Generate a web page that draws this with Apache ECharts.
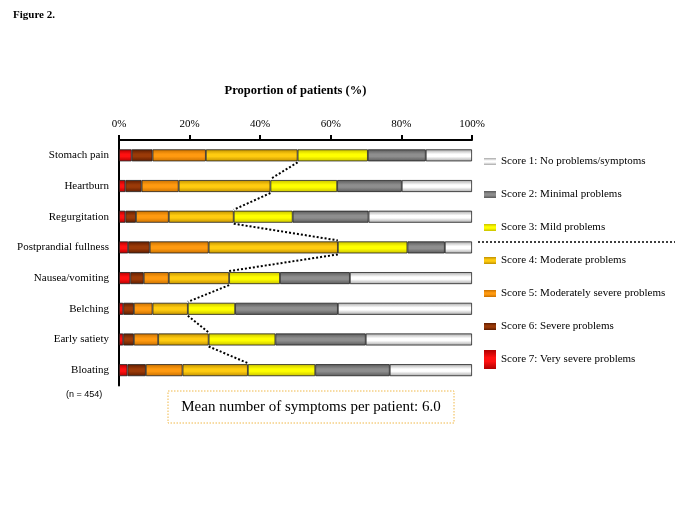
<!DOCTYPE html>
<html>
<head>
<meta charset="utf-8">
<script src="https://cdn.jsdelivr.net/npm/echarts@6/dist/echarts.min.js"></script>
<style>html,body{margin:0;padding:0;background:#fff}#c{width:685px;height:513px}</style>
</head>
<body>
<div id="c"></div>
<script>
const categories = ['Stomach pain','Heartburn','Regurgitation','Postprandial fullness','Nausea/vomiting','Belching','Early satiety','Bloating'];
const score7 = [3.6, 1.8, 1.8, 2.6, 3.2, 1.2, 1.2, 2.4];
const score6 = [5.9, 4.6, 3.0, 6.1, 3.8, 3.0, 3.0, 5.2];
const score5 = [15.1, 10.5, 9.3, 16.7, 7.1, 5.3, 6.9, 10.4];
const score4 = [26.0, 26.0, 18.4, 36.6, 17.1, 10.0, 14.3, 18.5];
const score3 = [19.9, 18.9, 16.7, 19.7, 14.4, 13.4, 18.9, 19.1];
const score2 = [16.4, 18.3, 21.5, 10.6, 19.8, 29.1, 25.6, 21.1];
const score1 = [13.1, 19.9, 29.3, 7.7, 34.6, 38.0, 30.1, 23.3];
const seriesNames = ['Score 7: Very severe problems','Score 6: Severe problems','Score 5: Moderately severe problems','Score 4: Moderate problems','Score 3: Mild problems','Score 2: Minimal problems','Score 1: No problems/symptoms'];
const xTickValues = [0, 20, 40, 60, 80, 100];

const FONT = "'Liberation Serif','Times New Roman',serif";
const seriesData = [score7, score6, score5, score4, score3, score2, score1];
const palette = [
  ['#B00000', '#FF1010'],
  ['#5E1C00', '#9A3A08'],
  ['#C87000', '#FF9A10'],
  ['#C09000', '#FFCC10'],
  ['#C8C000', '#FFFF00'],
  ['#5A5A5A', '#8E8E8E'],
  ['#A8A8A8', '#FFFFFF']
];
function grad(p) {
  return new echarts.graphic.LinearGradient(0, 0, 0, 1, [
    {offset: 0, color: p[0]}, {offset: 0.4, color: p[1]},
    {offset: 0.6, color: p[1]}, {offset: 1, color: p[0]}
  ]);
}
// cumulative share of score >= 4 per category (for dotted connector)
const cum4 = categories.map((_, i) => score7[i] + score6[i] + score5[i] + score4[i]);
const connectorData = [];
for (let i = 0; i < categories.length - 1; i++) connectorData.push([cum4[i], i, cum4[i + 1], i + 1]);

const barSeries = seriesNames.map((name, k) => ({
  name: name, type: 'bar', stack: 'all', barWidth: 12,
  data: seriesData[k],
  itemStyle: {color: grad(palette[k]), borderColor: '#222', borderWidth: 0.8},
  emphasis: {disabled: true}, silent: true
}));

const legendIcon = 'path://M0,0h12v7h-12z';
const legendIconTall = 'path://M0,0h12v19h-12z';
const legendData = seriesNames.slice().reverse().map(n => ({
  name: n, icon: n.startsWith('Score 7') ? legendIconTall : legendIcon,
  itemStyle: {borderWidth: 0}
}));

const chart = echarts.init(document.getElementById('c'), null, {renderer: 'canvas'});
chart.setOption({
  animation: false,
  backgroundColor: '#fff',
  grid: {left: 119, top: 140, width: 353, height: 245.5, containLabel: false},
  xAxis: {
    type: 'value', position: 'top', min: 0, max: 100, interval: 20,
    name: 'Proportion of patients (%)', nameLocation: 'middle', nameGap: 43,
    nameTextStyle: {fontFamily: FONT, fontSize: 12.5, color: '#000', fontWeight: 'bold'},
    axisLine: {show: true, lineStyle: {color: '#000', width: 2}},
    axisTick: {show: true, inside: false, length: 5, lineStyle: {color: '#000', width: 2}},
    axisLabel: {margin: 10, fontFamily: FONT, fontSize: 11, color: '#000', formatter: v => xTickValues.includes(v) ? v + '%' : ''},
    splitLine: {show: false}
  },
  yAxis: {
    type: 'category', inverse: true, data: categories, offset: 4,
    axisLine: {show: true, lineStyle: {color: '#000', width: 2}},
    axisTick: {show: false},
    axisLabel: {margin: 6, fontFamily: FONT, fontSize: 11, color: '#000'}
  },
  legend: {
    orient: 'vertical', left: 484, top: 152, padding: 0,
    itemWidth: 12, itemHeight: 19, itemGap: 14, selectedMode: false,
    data: legendData,
    itemStyle: {borderWidth: 0},
    textStyle: {fontFamily: FONT, fontSize: 11, color: '#000', lineHeight: 19}
  },
  series: barSeries.concat([{
    type: 'custom', coordinateSystem: 'cartesian2d', silent: true,
    encode: {x: [0, 2], y: [1, 3]},
    data: connectorData,
    renderItem: function (params, api) {
      const p1 = api.coord([api.value(0), api.value(1)]);
      const p2 = api.coord([api.value(2), api.value(3)]);
      return {type: 'line', shape: {x1: p1[0], y1: p1[1] + 7, x2: p2[0], y2: p2[1] - 7},
        style: {stroke: '#000', lineWidth: 2, lineDash: [2, 2]}};
    },
    z: 5
  }]),
  graphic: [
    {type: 'text', left: 13, top: 10, style: {text: 'Figure 2.', font: 'bold 11px ' + FONT, fill: '#000'}},
    {type: 'line', shape: {x1: 478, y1: 242, x2: 675, y2: 242}, style: {stroke: '#000', lineWidth: 1.5, lineDash: [2, 2]}},
    {type: 'text', left: 66, top: 390, style: {text: '(n = 454)', font: "9px 'Liberation Sans', Arial, sans-serif", fill: '#000'}},
    {type: 'rect', shape: {x: 168, y: 391, width: 286, height: 32}, style: {fill: 'none', stroke: '#F0B848', lineWidth: 1, lineDash: [1.5, 1.5]}},
    {type: 'text', x: 311, y: 407, style: {text: 'Mean number of symptoms per patient: 6.0', font: '15px ' + FONT, fill: '#000', textAlign: 'center', textVerticalAlign: 'middle'}}
  ]
});
</script>
</body>
</html>
